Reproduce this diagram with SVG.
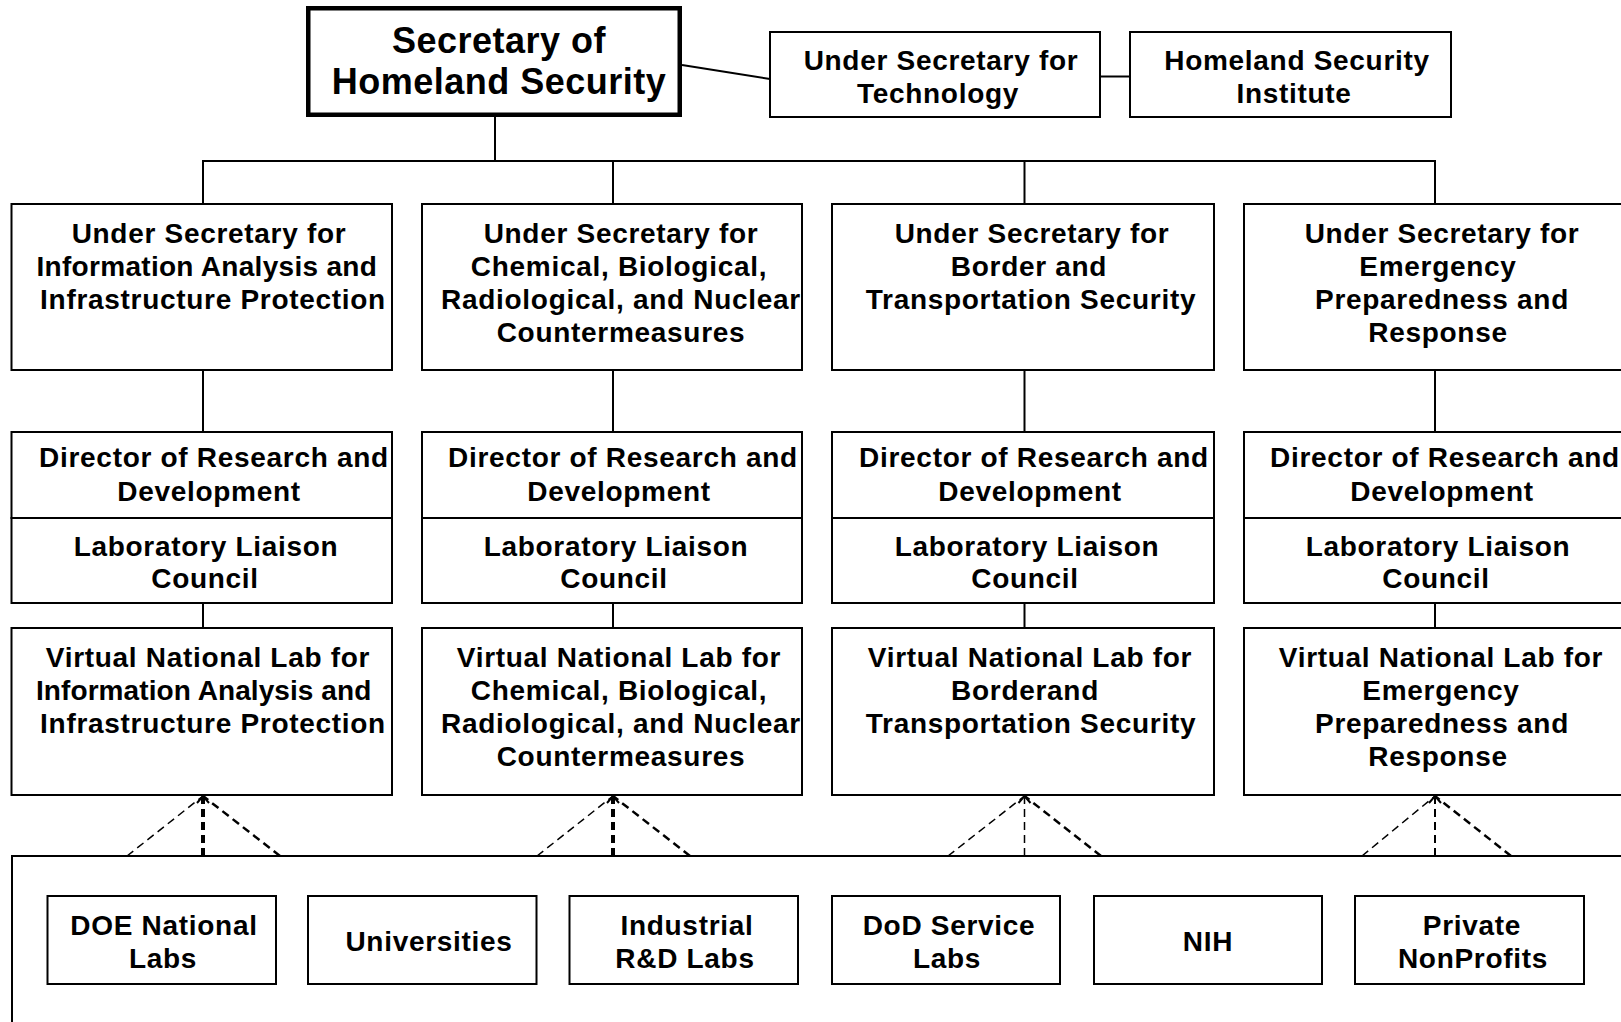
<svg xmlns="http://www.w3.org/2000/svg" width="1621" height="1022" viewBox="0 0 1621 1022">
  <style>
    .box { fill: #ffffff; stroke: #000000; stroke-width: 2; }
    .boss { fill: #ffffff; stroke: #000000; stroke-width: 4.5; }
    .t { font-family: "Liberation Sans", Arial, sans-serif; font-weight: bold; font-size: 28px; letter-spacing: 0.7px; text-anchor: middle; fill: #000000; }
    .big { font-size: 36px; letter-spacing: 0.5px; }
    .ln { fill: none; stroke: #000000; stroke-width: 2; }
    .dash { fill: none; stroke: #000000; stroke-dasharray: 8 5; }
  </style>
  <rect width="1621" height="1022" fill="#ffffff"/>

  <!-- connectors -->
  <g id="connectors">
    <line class="ln" x1="682" y1="65" x2="770" y2="79"/>
    <line class="ln" x1="1100" y1="76.5" x2="1130" y2="76.5"/>
    <line class="ln" x1="495" y1="117" x2="495" y2="161"/>
    <line class="ln" x1="202" y1="161" x2="1436" y2="161"/>
    <line class="ln" x1="203" y1="161" x2="203" y2="204"/>
    <line class="ln" x1="613" y1="161" x2="613" y2="204"/>
    <line class="ln" x1="1024.5" y1="161" x2="1024.5" y2="204"/>
    <line class="ln" x1="1435" y1="161" x2="1435" y2="204"/>
    <!-- under secretary to director -->
    <line class="ln" x1="203" y1="370" x2="203" y2="432"/>
    <line class="ln" x1="613" y1="370" x2="613" y2="432"/>
    <line class="ln" x1="1024.5" y1="370" x2="1024.5" y2="432"/>
    <line class="ln" x1="1435" y1="370" x2="1435" y2="432"/>
    <!-- council to virtual lab -->
    <line class="ln" x1="203" y1="603" x2="203" y2="628"/>
    <line class="ln" x1="613" y1="603" x2="613" y2="628"/>
    <line class="ln" x1="1024.5" y1="603" x2="1024.5" y2="628"/>
    <line class="ln" x1="1435" y1="603" x2="1435" y2="628"/>
    <!-- dashed support links from the research base -->
    <g id="support-1">
      <line class="dash" stroke-width="1.5" x1="127" y1="856" x2="203" y2="796"/>
      <line class="dash" stroke-width="2.5" x1="280" y1="856" x2="203" y2="796"/>
      <line class="dash" stroke-width="4" x1="203" y1="856" x2="203" y2="798"/>
      <path class="ln" d="M197,803 L203,796 L209,803"/>
    </g>
    <g id="support-2">
      <line class="dash" stroke-width="1.5" x1="537" y1="856" x2="613" y2="796"/>
      <line class="dash" stroke-width="2.5" x1="690" y1="856" x2="613" y2="796"/>
      <line class="dash" stroke-width="4" x1="613" y1="856" x2="613" y2="798"/>
      <path class="ln" d="M607,803 L613,796 L619,803"/>
    </g>
    <g id="support-3">
      <line class="dash" stroke-width="1.5" x1="948" y1="856" x2="1024.5" y2="796"/>
      <line class="dash" stroke-width="2.5" x1="1101" y1="856" x2="1024.5" y2="796"/>
      <line class="dash" stroke-width="1.5" x1="1024.5" y1="856" x2="1024.5" y2="798"/>
      <path class="ln" d="M1018.5,803 L1024.5,796 L1030.5,803"/>
    </g>
    <g id="support-4">
      <line class="dash" stroke-width="1.5" x1="1362" y1="856" x2="1435" y2="796"/>
      <line class="dash" stroke-width="2.5" x1="1511" y1="856" x2="1435" y2="796"/>
      <line class="dash" stroke-width="2" x1="1435" y1="856" x2="1435" y2="798"/>
      <path class="ln" d="M1429,803 L1435,796 L1441,803"/>
    </g>
  </g>

  <!-- top level -->
  <g id="secretary">
    <rect class="boss" x="308.25" y="8.25" width="371.5" height="106.5"/>
    <text class="t big" x="499" y="53">Secretary of</text>
    <text class="t big" x="499" y="94">Homeland Security</text>
  </g>
  <g id="us-technology">
    <rect class="box" x="770" y="32" width="330" height="85"/>
    <text class="t" x="941" y="70">Under Secretary for</text>
    <text class="t" x="938" y="103">Technology</text>
  </g>
  <g id="hs-institute">
    <rect class="box" x="1130" y="32" width="321" height="85"/>
    <text class="t" x="1297" y="70">Homeland Security</text>
    <text class="t" x="1294" y="103">Institute</text>
  </g>

  <!-- column 1 -->
  <g id="us-iaip">
    <rect class="box" x="11.5" y="204" width="380.5" height="166"/>
    <text class="t" x="209" y="243">Under Secretary for</text>
    <text class="t" x="207" y="276" textLength="341">Information Analysis and</text>
    <text class="t" x="213" y="309">Infrastructure Protection</text>
  </g>
  <g id="rd-1">
    <rect class="box" x="11.5" y="432" width="380.5" height="86"/>
    <text class="t" x="214" y="467">Director of Research and</text>
    <text class="t" x="209" y="501">Development</text>
  </g>
  <g id="llc-1">
    <rect class="box" x="11.5" y="518" width="380.5" height="85"/>
    <text class="t" x="206" y="556">Laboratory Liaison</text>
    <text class="t" x="205" y="588">Council</text>
  </g>
  <g id="vnl-1">
    <rect class="box" x="11.5" y="628" width="380.5" height="167"/>
    <text class="t" x="208" y="667">Virtual National Lab for</text>
    <text class="t" x="204" y="700" textLength="336">Information Analysis and</text>
    <text class="t" x="213" y="733">Infrastructure Protection</text>
  </g>

  <!-- column 2 -->
  <g id="us-cbrn">
    <rect class="box" x="422" y="204" width="380" height="166"/>
    <text class="t" x="621" y="243">Under Secretary for</text>
    <text class="t" x="619" y="276">Chemical, Biological,</text>
    <text class="t" x="621" y="309">Radiological, and Nuclear</text>
    <text class="t" x="621" y="342">Countermeasures</text>
  </g>
  <g id="rd-2">
    <rect class="box" x="422" y="432" width="380" height="86"/>
    <text class="t" x="623" y="467">Director of Research and</text>
    <text class="t" x="619" y="501">Development</text>
  </g>
  <g id="llc-2">
    <rect class="box" x="422" y="518" width="380" height="85"/>
    <text class="t" x="616" y="556">Laboratory Liaison</text>
    <text class="t" x="614" y="588">Council</text>
  </g>
  <g id="vnl-2">
    <rect class="box" x="422" y="628" width="380" height="167"/>
    <text class="t" x="619" y="667">Virtual National Lab for</text>
    <text class="t" x="619" y="700">Chemical, Biological,</text>
    <text class="t" x="621" y="733">Radiological, and Nuclear</text>
    <text class="t" x="621" y="766">Countermeasures</text>
  </g>

  <!-- column 3 -->
  <g id="us-bts">
    <rect class="box" x="832" y="204" width="382" height="166"/>
    <text class="t" x="1032" y="243">Under Secretary for</text>
    <text class="t" x="1029" y="276">Border and</text>
    <text class="t" x="1031" y="309">Transportation Security</text>
  </g>
  <g id="rd-3">
    <rect class="box" x="832" y="432" width="382" height="86"/>
    <text class="t" x="1034" y="467">Director of Research and</text>
    <text class="t" x="1030" y="501">Development</text>
  </g>
  <g id="llc-3">
    <rect class="box" x="832" y="518" width="382" height="85"/>
    <text class="t" x="1027" y="556">Laboratory Liaison</text>
    <text class="t" x="1025" y="588">Council</text>
  </g>
  <g id="vnl-3">
    <rect class="box" x="832" y="628" width="382" height="167"/>
    <text class="t" x="1030" y="667">Virtual National Lab for</text>
    <text class="t" x="1025" y="700">Borderand</text>
    <text class="t" x="1031" y="733">Transportation Security</text>
  </g>

  <!-- column 4 -->
  <g id="us-epr">
    <rect class="box" x="1244" y="204" width="384" height="166"/>
    <text class="t" x="1442" y="243">Under Secretary for</text>
    <text class="t" x="1438" y="276">Emergency</text>
    <text class="t" x="1442" y="309">Preparedness and</text>
    <text class="t" x="1438" y="342">Response</text>
  </g>
  <g id="rd-4">
    <rect class="box" x="1244" y="432" width="384" height="86"/>
    <text class="t" x="1445" y="467">Director of Research and</text>
    <text class="t" x="1442" y="501">Development</text>
  </g>
  <g id="llc-4">
    <rect class="box" x="1244" y="518" width="384" height="85"/>
    <text class="t" x="1438" y="556">Laboratory Liaison</text>
    <text class="t" x="1436" y="588">Council</text>
  </g>
  <g id="vnl-4">
    <rect class="box" x="1244" y="628" width="384" height="167"/>
    <text class="t" x="1441" y="667">Virtual National Lab for</text>
    <text class="t" x="1441" y="700">Emergency</text>
    <text class="t" x="1442" y="733">Preparedness and</text>
    <text class="t" x="1438" y="766">Response</text>
  </g>

  <!-- research base container -->
  <g id="research-base">
    <path class="ln" d="M1630,856 H12 V1030"/>
  </g>
  <g id="doe-labs">
    <rect class="box" x="47.5" y="896" width="228.5" height="88"/>
    <text class="t" x="164" y="935">DOE National</text>
    <text class="t" x="163" y="968">Labs</text>
  </g>
  <g id="universities">
    <rect class="box" x="308" y="896" width="228.5" height="88"/>
    <text class="t" x="429" y="951">Universities</text>
  </g>
  <g id="industrial-labs">
    <rect class="box" x="569.5" y="896" width="228.5" height="88"/>
    <text class="t" x="687" y="935">Industrial</text>
    <text class="t" x="685" y="968">R&amp;D Labs</text>
  </g>
  <g id="dod-labs">
    <rect class="box" x="832" y="896" width="228" height="88"/>
    <text class="t" x="949" y="935">DoD Service</text>
    <text class="t" x="947" y="968">Labs</text>
  </g>
  <g id="nih">
    <rect class="box" x="1094" y="896" width="228" height="88"/>
    <text class="t" x="1208" y="951">NIH</text>
  </g>
  <g id="private-nonprofits">
    <rect class="box" x="1355" y="896" width="229" height="88"/>
    <text class="t" x="1472" y="935">Private</text>
    <text class="t" x="1473" y="968">NonProfits</text>
  </g>
</svg>
